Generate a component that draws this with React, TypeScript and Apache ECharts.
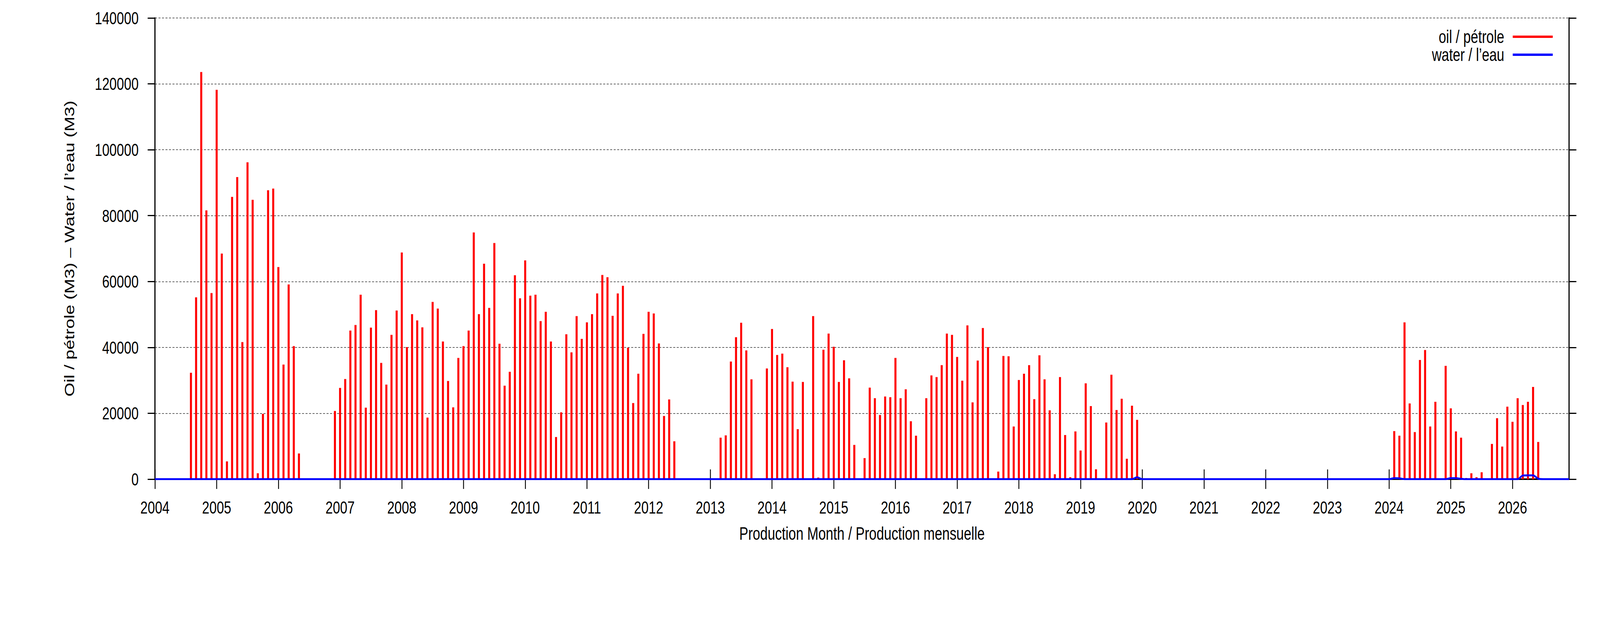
import React, { useEffect, useRef } from "react";
import * as echarts from "echarts";

// ---- data ----
const years = [2004, 2005, 2006, 2007, 2008, 2009, 2010, 2011, 2012, 2013, 2014, 2015, 2016, 2017, 2018, 2019, 2020, 2021, 2022, 2023, 2024, 2025, 2026];
const monthNums = ["01", "02", "03", "04", "05", "06", "07", "08", "09", "10", "11", "12"];

const oil2004 = [null, null, null, null, null, null, null, 32300, 55200, 123600, 81600, 56500];
const oil2005 = [118200, 68500, 5400, 85700, 91700, 41600, 96200, 84800, 1800, 19800, 87700, 88200];
const oil2006 = [64400, 34800, 59100, 40400, 7800, null, null, null, null, null, null, 20700];
const oil2007 = [27700, 30400, 45100, 46800, 56000, 21700, 46000, 51300, 35300, 28700, 43800, 51200];
const oil2008 = [68800, 40100, 50100, 48200, 46100, 18700, 53800, 51800, 41800, 29800, 21800, 36800];
const oil2009 = [40400, 45100, 74900, 50100, 65400, 52000, 71700, 41100, 28400, 32600, 61900, 54900];
const oil2010 = [66400, 55700, 56000, 48000, 50800, 41800, 12800, 20300, 44000, 38500, 49500, 42600];
const oil2011 = [47600, 50100, 56400, 62000, 61300, 49600, 56400, 58700, 39900, 23100, 32000, 44100];
const oil2012 = [50800, 50300, 41200, 19200, 24200, 11500, null, null, null, null, null, null];
const oil2013 = [null, null, 12600, 13300, 35700, 43100, 47500, 39100, 30300, null, null, 33600];
const oil2014 = [45600, 37700, 38100, 34000, 29600, 15200, 29500, null, 49500, 500, 39300, 44200];
const oil2015 = [40200, 29500, 36100, 30600, 10400, null, 6400, 27800, 24600, 19500, 25100, 24900];
const oil2016 = [36800, 24600, 27300, 17600, 13200, null, 24600, 31500, 31000, 34600, 44200, 43800];
const oil2017 = [37100, 29900, 46700, 23300, 36000, 45900, 40100, null, 2300, 37400, 37300, 16000];
const oil2018 = [30100, 32000, 34600, 24300, 37600, 30300, 20900, 1500, 31000, 13400, 600, 14500];
const oil2019 = [8700, 29100, 22200, 3000, null, 17200, 31700, 21000, 24400, 6200, 22300, 18000];
const oil2020: (number | null)[] = [];
const oil2021: (number | null)[] = [];
const oil2022: (number | null)[] = [];
const oil2023: (number | null)[] = [];
const oil2024 = [null, 14600, 13200, 47600, 23000, 14300, 36200, 39200, 16000, 23500, null, 34400];
const oil2025 = [21500, 14500, 12600, 350, 1800, 600, 2100, null, 10700, 18500, 9900, 22000];
const oil2026 = [17400, 24600, 22500, 23500, 28000, 11300, null, null, null, null, null, null];

const oilByYear = [oil2004, oil2005, oil2006, oil2007, oil2008, oil2009, oil2010, oil2011, oil2012, oil2013, oil2014, oil2015, oil2016, oil2017, oil2018, oil2019, oil2020, oil2021, oil2022, oil2023, oil2024, oil2025, oil2026];

const waterMonths = ["2004-01", "2019-11", "2019-12", "2020-01", "2024-01", "2024-02", "2024-03", "2024-04", "2024-12", "2025-01", "2025-02", "2025-03", "2025-04", "2026-02", "2026-03", "2026-04", "2026-05", "2026-06", "2026-07", "2026-12"];
const waterValues = [0, 0, 550, 0, 0, 300, 250, 0, 0, 300, 300, 100, 0, 0, 1100, 1150, 1150, 150, 0, 0];

const yMin = 0;
const yMax = 140000;
const yStep = 20000;

const oilName = "oil / pétrole";
const waterName = "water / l\u2019eau";
const yTitle = "Oil / pétrole (M3) \u2013 Water / l\u2019eau (M3)";
const xTitle = "Production Month / Production mensuelle";

const FONT = "'Liberation Sans', Arial, Helvetica, sans-serif";
const REF_W = 5483;
const REF_H = 1594;

export default function App() {
  const ref = useRef<HTMLDivElement>(null);
  const vw = (typeof window !== "undefined" && window.innerWidth) || REF_W;
  const k = vw < REF_W ? vw / REF_W : 1;

  useEffect(() => {
    if (!ref.current) return;
    const chart = echarts.init(ref.current, null, { renderer: "svg", width: REF_W, height: REF_H });

    const months = years.flatMap((y) => monthNums.map((m) => `${y}-${m}`));
    const oil = oilByYear.flatMap((arr) => monthNums.map((_, i) => (arr[i] === undefined ? null : arr[i])));
    const water = waterMonths.map((m, i) => [m, waterValues[i]]);

    const isJan = (_idx: number, value: string) => String(value).slice(5) === "01";

    const tickStyle = { show: true, inside: false, length: 25, lineStyle: { color: "#000", width: 3 } };
    const axisLineStyle = { show: true, lineStyle: { color: "#000", width: 4 } };
    const legendText = { fontSize: 46, fontFamily: FONT, color: "#000", lineHeight: 46, padding: [0, 24, 0, 0] };

    const option: any = {
      animation: false,
      backgroundColor: "#fff",
      textStyle: { fontFamily: FONT },
      grid: { left: 531, right: 106, top: 46, bottom: 368, containLabel: false },
      legend: [
        {
          data: [{ name: oilName, icon: "rect" }],
          orient: "vertical",
          align: "right",
          right: 162,
          top: 71,
          padding: 0,
          itemWidth: 137,
          itemHeight: 6,
          selectedMode: false,
          textStyle: legendText,
        },
        {
          data: [{ name: waterName, icon: "rect" }],
          orient: "vertical",
          align: "right",
          right: 162,
          top: 117,
          padding: 0,
          itemWidth: 137,
          itemHeight: 6,
          selectedMode: false,
          textStyle: legendText,
        },
      ],
      xAxis: [
        {
          type: "category",
          data: months,
          boundaryGap: false,
          position: "bottom",
          axisLine: axisLineStyle,
          axisTick: { ...tickStyle, interval: isJan },
          axisLabel: {
            interval: isJan,
            formatter: (v: string) => v.slice(0, 4),
            fontSize: 45,
            fontFamily: FONT,
            color: "#000",
            margin: 50,
          },
          splitLine: { show: false },
          name: xTitle,
          nameLocation: "middle",
          nameGap: 116,
          nameTextStyle: { fontSize: 46, fontFamily: FONT, color: "#000" },
        },
        {
          type: "category",
          data: months,
          boundaryGap: false,
          position: "top",
          axisLine: axisLineStyle,
          axisTick: { ...tickStyle, interval: isJan },
          axisLabel: { show: false },
          splitLine: { show: false },
        },
      ],
      yAxis: [
        {
          type: "value",
          min: yMin,
          max: yMax,
          interval: yStep,
          position: "left",
          axisLine: axisLineStyle,
          axisTick: tickStyle,
          axisLabel: { fontSize: 45, fontFamily: FONT, color: "#000", margin: 56, formatter: (v: number) => String(v) },
          splitLine: { show: true, lineStyle: { color: "#333", width: 1.5, type: [7, 5] } },
          name: yTitle,
          nameLocation: "middle",
          nameRotate: 90,
          nameGap: 270,
          nameTextStyle: { fontSize: 46, fontFamily: FONT, color: "#000" },
        },
        {
          type: "value",
          min: yMin,
          max: yMax,
          interval: yStep,
          position: "right",
          axisLine: axisLineStyle,
          axisTick: tickStyle,
          axisLabel: { show: false },
          splitLine: { show: false },
        },
      ],
      series: [
        {
          name: oilName,
          type: "bar",
          xAxisIndex: 0,
          yAxisIndex: 0,
          data: oil,
          barWidth: 7,
          itemStyle: { color: "#ff0000" },
          z: 2,
        },
        {
          name: waterName,
          type: "line",
          xAxisIndex: 0,
          yAxisIndex: 0,
          data: water,
          showSymbol: false,
          symbol: "none",
          smooth: 0.3,
          lineStyle: { color: "#0000ff", width: 5 },
          itemStyle: { color: "#0000ff" },
          z: 3,
        },
      ],
    };

    chart.setOption(option);
    return () => chart.dispose();
  }, []);

  return (
    <div
      ref={ref}
      style={{
        position: "absolute",
        left: 0,
        top: 0,
        width: REF_W,
        height: REF_H,
        background: "#fff",
        transform: `scale(${k}, 1)`,
        transformOrigin: "0 0",
      }}
    />
  );
}
